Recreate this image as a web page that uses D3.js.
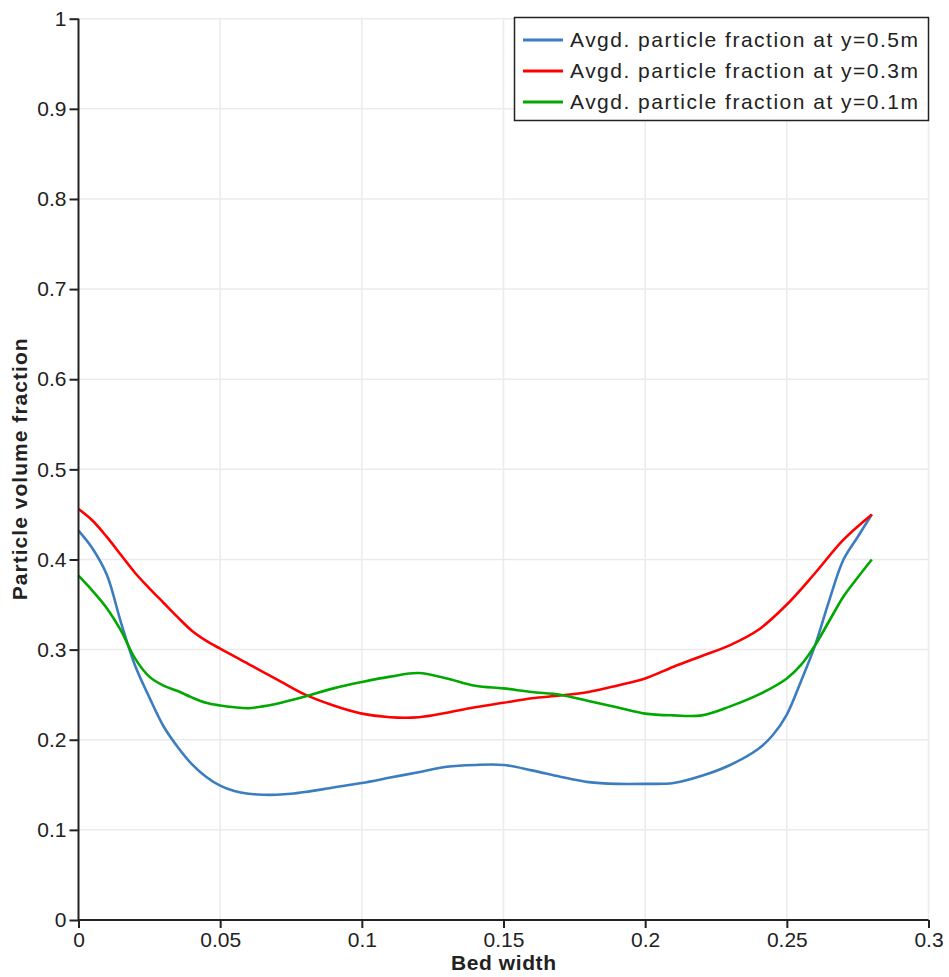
<!DOCTYPE html>
<html>
<head>
<meta charset="utf-8">
<script src="https://cdn.jsdelivr.net/npm/d3@7"></script>
<style>
  body { margin: 0; background: #fff; }
  text { font-family: "Liberation Sans", Arial, sans-serif; fill: #222; }
</style>
</head>
<body>
<div id="container"></div>
<script>
const WIDTH = 949,
  HEIGHT = 977,
  MARGIN = { top: 18.7, right: 20.5, bottom: 57, left: 78.5 };

// data
const xBlue = [0, 0.005, 0.01, 0.015, 0.02, 0.025, 0.03, 0.035, 0.04, 0.045, 0.05, 0.055, 0.06, 0.065, 0.07, 0.075, 0.08, 0.09, 0.1, 0.11, 0.12, 0.13, 0.14, 0.15, 0.16, 0.17, 0.18, 0.19, 0.2, 0.21, 0.22, 0.23, 0.24, 0.245, 0.25, 0.255, 0.26, 0.265, 0.27, 0.275, 0.28];
const yBlue = [0.432, 0.412, 0.383, 0.33, 0.282, 0.247, 0.215, 0.192, 0.173, 0.159, 0.149, 0.143, 0.14, 0.139, 0.139, 0.14, 0.142, 0.147, 0.152, 0.158, 0.164, 0.17, 0.172, 0.172, 0.166, 0.159, 0.153, 0.151, 0.151, 0.152, 0.16, 0.172, 0.19, 0.205, 0.228, 0.265, 0.305, 0.355, 0.4, 0.425, 0.45];

const xRed = [0, 0.005, 0.01, 0.015, 0.02, 0.025, 0.03, 0.035, 0.04, 0.045, 0.05, 0.06, 0.07, 0.08, 0.09, 0.1, 0.11, 0.12, 0.13, 0.14, 0.15, 0.16, 0.17, 0.18, 0.19, 0.2, 0.21, 0.22, 0.23, 0.24, 0.25, 0.26, 0.27, 0.28];
const yRed = [0.456, 0.443, 0.425, 0.405, 0.385, 0.368, 0.352, 0.336, 0.321, 0.31, 0.301, 0.284, 0.267, 0.25, 0.238, 0.229, 0.225, 0.225, 0.23, 0.236, 0.241, 0.246, 0.249, 0.253, 0.26, 0.268, 0.281, 0.293, 0.305, 0.322, 0.35, 0.385, 0.422, 0.45];

const xGreen = [0, 0.005, 0.01, 0.015, 0.02, 0.025, 0.03, 0.035, 0.04, 0.045, 0.05, 0.055, 0.06, 0.065, 0.07, 0.08, 0.09, 0.1, 0.11, 0.12, 0.13, 0.14, 0.15, 0.16, 0.17, 0.18, 0.19, 0.2, 0.21, 0.22, 0.23, 0.24, 0.25, 0.255, 0.26, 0.265, 0.27, 0.275, 0.28];
const yGreen = [0.382, 0.365, 0.346, 0.321, 0.29, 0.27, 0.26, 0.254, 0.247, 0.241, 0.238, 0.236, 0.235, 0.237, 0.24, 0.248, 0.257, 0.264, 0.27, 0.274, 0.268, 0.26, 0.257, 0.253, 0.25, 0.243, 0.236, 0.229, 0.227, 0.227, 0.237, 0.25, 0.268, 0.283, 0.305, 0.332, 0.359, 0.38, 0.4];

const seriesNames = ["Avgd. particle fraction at y=0.5m", "Avgd. particle fraction at y=0.3m", "Avgd. particle fraction at y=0.1m"];
const seriesColors = ["#3b7dbf", "#ff0000", "#00a800"];

const xTicks = [0, 0.05, 0.1, 0.15, 0.2, 0.25, 0.3];
const yTicks = [0, 0.1, 0.2, 0.3, 0.4, 0.5, 0.6, 0.7, 0.8, 0.9, 1];

const series = [
  { name: seriesNames[0], color: seriesColors[0], values: xBlue.map((x, i) => [x, yBlue[i]]) },
  { name: seriesNames[1], color: seriesColors[1], values: xRed.map((x, i) => [x, yRed[i]]) },
  { name: seriesNames[2], color: seriesColors[2], values: xGreen.map((x, i) => [x, yGreen[i]]) }
];

const svg = d3.select("#container")
  .append("svg")
  .attr("width", WIDTH)
  .attr("height", HEIGHT)

// Scales
const xScale = d3.scaleLinear()
  .domain([0, 0.3])
  .range([MARGIN.left, WIDTH - MARGIN.right])

const yScale = d3.scaleLinear()
  .domain([0, 1])
  .range([HEIGHT - MARGIN.bottom, MARGIN.top])

// grid
svg.append("g")
  .selectAll("line.vgrid")
  .data(xTicks.slice(1))
  .join("line")
  .attr("x1", d => xScale(d)).attr("x2", d => xScale(d))
  .attr("y1", yScale(0)).attr("y2", yScale(1))
  .attr("stroke", "#ebebeb")
  .attr("stroke-width", 1.5)

svg.append("g")
  .selectAll("line.hgrid")
  .data(yTicks.slice(1))
  .join("line")
  .attr("x1", xScale(0)).attr("x2", xScale(0.3))
  .attr("y1", d => yScale(d)).attr("y2", d => yScale(d))
  .attr("stroke", "#ebebeb")
  .attr("stroke-width", 1.5)

// lines
const line = d3.line()
  .x(d => xScale(d[0]))
  .y(d => yScale(d[1]))
  .curve(d3.curveCatmullRom.alpha(0.5))

svg.selectAll(".series")
  .data(series)
  .join("path")
  .attr("class", "series")
  .attr("d", d => line(d.values))
  .attr("fill", "none")
  .attr("stroke", d => d.color)
  .attr("stroke-width", 2.6)

// axes
const xAxis = svg.append("g")
  .attr("transform", `translate(0, ${yScale(0)})`)
  .call(d3.axisBottom(xScale).tickValues(xTicks).tickSize(8).tickPadding(4).tickFormat(d3.format("~g")))

const yAxis = svg.append("g")
  .attr("transform", `translate(${xScale(0)}, 0)`)
  .call(d3.axisLeft(yScale).tickValues(yTicks).tickSize(9).tickPadding(3).tickFormat(d3.format("~g")))

for (const ax of [xAxis, yAxis]) {
  ax.select(".domain").attr("stroke", "#222").attr("stroke-width", 2)
  ax.selectAll(".tick line").attr("stroke", "#222").attr("stroke-width", 2)
  ax.selectAll(".tick text")
    .style("font-family", '"Liberation Sans", Arial, sans-serif')
    .style("font-size", "21px")
    .attr("fill", "#222")
}
xAxis.select(".domain").attr("d", `M${xScale(0)},0H${xScale(0.3)}`)
yAxis.select(".domain").attr("d", `M0,${yScale(0)}V${yScale(1)}`)

// axis titles
svg.append("text")
  .attr("x", (xScale(0) + xScale(0.3)) / 2)
  .attr("y", 970)
  .attr("text-anchor", "middle")
  .style("font-size", "21px")
  .style("font-weight", "bold")
  .attr("textLength", 105)
  .text("Bed width")

svg.append("text")
  .attr("transform", `translate(27, ${(yScale(0) + yScale(1)) / 2}) rotate(-90)`)
  .attr("text-anchor", "middle")
  .style("font-size", "21px")
  .style("font-weight", "bold")
  .attr("textLength", 262)
  .text("Particle volume fraction")

// legend
const legend = svg.append("g")

legend.append("rect")
  .attr("x", 514.5).attr("y", 17.5)
  .attr("width", 414).attr("height", 103)
  .attr("fill", "#fff")
  .attr("stroke", "#222")
  .attr("stroke-width", 1.5)

const items = legend.selectAll(".item")
  .data(series)
  .join("g")
  .attr("class", "item")
  .attr("transform", (d, i) => `translate(0, ${40 + i * 31})`)

items.append("line")
  .attr("x1", 523).attr("x2", 563)
  .attr("stroke", d => d.color)
  .attr("stroke-width", 3)

items.append("text")
  .attr("x", 570)
  .attr("dy", "0.35em")
  .style("font-size", "21px")
  .attr("textLength", 348)
  .text(d => d.name)
</script>
</body>
</html>
